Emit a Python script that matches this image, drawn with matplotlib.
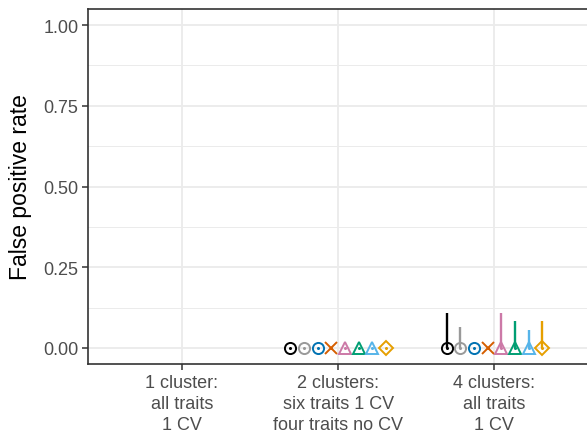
import numpy as np
import matplotlib
matplotlib.use("Agg")
import matplotlib.pyplot as plt

plt.rcParams['font.family'] = ['Liberation Sans', 'DejaVu Sans']

# data
scenarios = ["1 cluster:\nall traits\n1 CV",
             "2 clusters:\nsix traits 1 CV\nfour traits no CV",
             "4 clusters:\nall traits\n1 CV"]
colors = ["#000000", "#999999", "#0072B2", "#D55E00",
          "#CC79A7", "#009E73", "#56B4E9", "#E69F00"]
shapes = ["o", "o", "o", "x", "^", "^", "^", "D"]
# rows = scenario, cols = method; nan = not run
fpr = np.array([
    [np.nan] * 8,
    [0, 0, 0, 0, 0, 0, 0, 0],
    [0, 0, 0, 0, 0, 0, 0, 0],
])
fpr_hi = np.array([
    [np.nan] * 8,
    [0, 0, 0, 0, 0, 0, 0, 0],
    [0.109, 0.064, 0, 0, 0.109, 0.084, 0.056, 0.084],
])

W, H = 587, 439
fig = plt.figure(figsize=(W / 100, H / 100), dpi=100)
ax = fig.add_axes([88 / W, (H - 365) / H, (W - 88) / W + 0.002, (365 - 10) / H])

n = len(colors)
dodge = 0.7
xs = np.arange(1, len(scenarios) + 1)

for j in range(n):
    off = (j - (n - 1) / 2) * dodge / n
    x = xs + off
    ax.vlines(x, fpr[:, j], fpr_hi[:, j], color=colors[j], lw=1.7, zorder=3)
    ms = 8.5 if shapes[j] == "x" else (7.2 if shapes[j] == "D" else 8)
    ax.plot(x, fpr[:, j], ls="none", marker=shapes[j], ms=ms,
            mfc="none", mec=colors[j], mew=1.4, zorder=4)
    ax.plot(x, fpr[:, j], ls="none", marker="o", ms=2.2,
            mfc=colors[j], mec=colors[j], mew=0, zorder=5)

ax.set_xlim(0.4, 3.6)
ax.set_ylim(-0.05, 1.05)
ax.set_xticks(xs)
ax.set_xticklabels(scenarios, linespacing=1.32)
ax.set_yticks([0, 0.25, 0.5, 0.75, 1.0])
ax.set_yticklabels(["0.00", "0.25", "0.50", "0.75", "1.00"])
ax.set_yticks([0.125, 0.375, 0.625, 0.875], minor=True)

ax.grid(True, which="major", color="#EBEBEB", lw=1.3, zorder=0)
ax.grid(True, which="minor", axis="y", color="#EBEBEB", lw=0.7, zorder=0)
ax.set_axisbelow(True)

for s in ax.spines.values():
    s.set_color("#333333")
    s.set_linewidth(1.2)

ax.tick_params(which="major", length=4, width=1.1, color="#333333",
               labelcolor="#4D4D4D", labelsize=13, pad=3)
ax.tick_params(which="minor", length=0)

ax.set_ylabel("False positive rate", fontsize=16.5, color="black", labelpad=8)

fig.savefig("out.png", dpi=100)
